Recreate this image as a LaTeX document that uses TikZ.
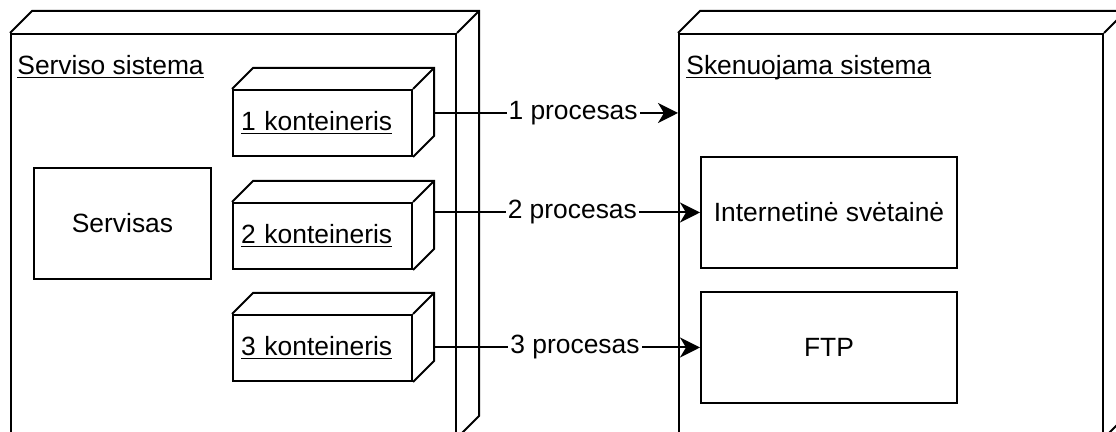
\documentclass[tikz,border=0pt]{standalone}
\usepackage{fontspec}
\setmainfont{Liberation Sans}
\usetikzlibrary{calc,positioning,arrows.meta}
\newcommand{\ulabel}[1]{\setbox0\hbox{#1}\rlap{\rule[-1.6pt]{\wd0}{0.65pt}}\box0}
\tikzset{
>={Stealth[length=10pt,width=10pt,inset=3pt]},
box/.style={draw=black, line width=1pt},
sistema/.style={box, rectangle, anchor=north west, minimum height=201.5pt, inner sep=0pt},
konteineris/.style={box, rectangle, text width=81.5pt, minimum height=33pt, inner xsep=4pt, inner ysep=0pt, align=left},
blokas/.style={box, rectangle, minimum height=55.5pt, inner sep=0pt, text centered},
title/.style={anchor=base west, inner sep=0pt},
line/.style={box, ->},
proc/.style={fill=white, inner sep=1pt},
}
\begin{document}
\begin{tikzpicture}
[x=0.5pt, y=-0.5pt, font=\fontsize{13.2}{15.8}\selectfont]
\useasboundingbox (0,0) rectangle (1116,432);
\clip (0,0) rectangle (1116,432);

% sistemos
\node[sistema, minimum width=222.5pt] (serv) at (10,33) {};
\node[sistema, minimum width=212pt] (skan) at (678,33) {};
\node[title] (servt) at (17,75) {\ulabel{Serviso sistema}};
\node[title] (skant) at (686,75) {\ulabel{Skenuojama sistema}};

% konteineriai
\node[konteineris, anchor=north west] (k1) at (232,89) {\ulabel{1 konteineris}};
\node[konteineris, below=22.5pt of k1] (k2) {\ulabel{2 konteineris}};
\node[konteineris, below=22pt of k2] (k3) {\ulabel{3 konteineris}};

\node[blokas, minimum width=88.5pt, anchor=north west] (servisas) at (33,167) {Servisas};
\node[blokas, minimum width=128pt, anchor=north west] (web) at (700,156) {Internetinė svėtainė};
\node[blokas, minimum width=128pt, below=11pt of web] (ftp) {FTP};

% 3D gylis
\foreach \n/\d in {serv/22,skan/22,k1/21,k2/21,k3/21}
  \draw[box] (\n.north west) -- ++(\d,-\d) -| ($(\n.south east)+(\d,-\d)$) -- (\n.south east)
             (\n.north east) -- ++(\d,-\d);

% procesai
\coordinate (k1out) at ($(k1.east)+(21,-10)$);
\coordinate (k2out) at ($(k2.east)+(21,0)$);
\coordinate (k3out) at ($(k3.east)+(21,0)$);
\draw[line] (k1out) -- node[proc, pos=.57] {1 procesas} (k1out -| skan.west);
\draw[line] (k2out |- web.west) -- node[proc, pos=.52] {2 procesas} (web.west);
\draw[line] (k3out |- ftp.west) -- node[proc, pos=.53] {3 procesas} (ftp.west);

\end{tikzpicture}
\end{document}
